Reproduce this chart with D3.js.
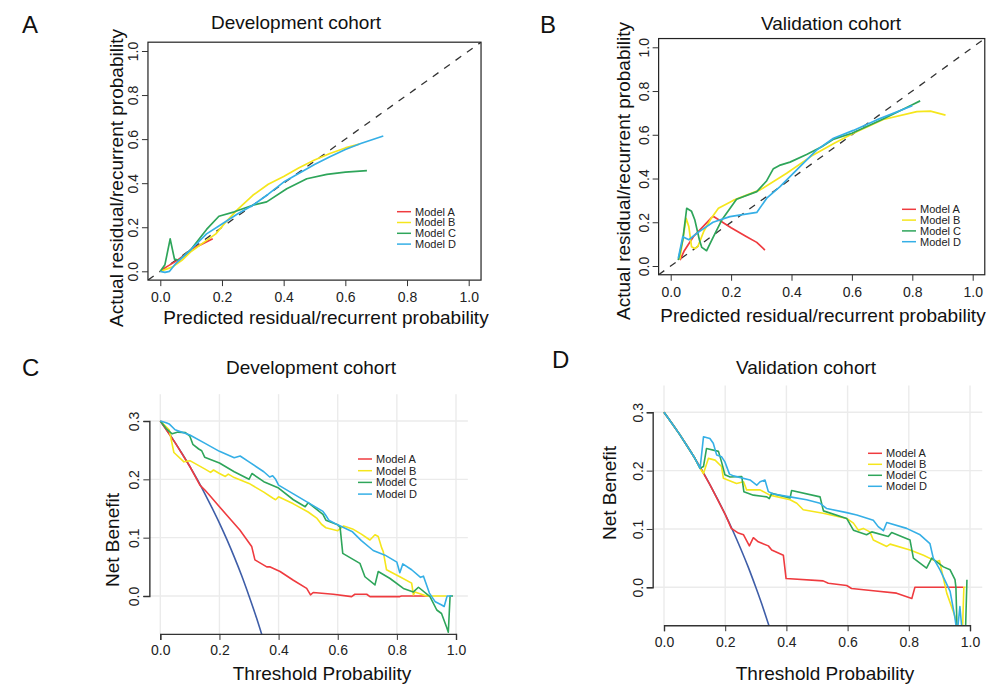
<!DOCTYPE html>
<html><head><meta charset="utf-8">
<script src="https://cdn.jsdelivr.net/npm/d3@7"></script>
<style>body{margin:0;background:#fff}svg{display:block;font-family:"Liberation Sans",Arial,Helvetica,sans-serif}</style>
</head><body><svg id="c" width="992" height="686"></svg>
<script>
// ---------------- data ----------------
const modelNames = ["Model A", "Model B", "Model C", "Model D"];
const calTicks = [0, 0.2, 0.4, 0.6, 0.8, 1.0];
const dcaXTicks = [0, 0.2, 0.4, 0.6, 0.8, 1.0];
const dcaYTicks = [0, 0.1, 0.2, 0.3];

// Calibration, development cohort: [predicted, actual]
const calDevA = [[0,0],[0.02,0.02],[0.05,0.045],[0.08,0.075],[0.1,0.1],[0.13,0.12],[0.17,0.148]];
const calDevB = [[0,0],[0.02,0.01],[0.04,0.02],[0.07,0.05],[0.1,0.09],[0.14,0.13],[0.18,0.17],[0.21,0.22],[0.25,0.28],[0.3,0.345],[0.35,0.395],[0.4,0.43],[0.45,0.47],[0.5,0.505],[0.55,0.535],[0.6,0.56],[0.645,0.577]];
const calDevC = [[0,0],[0.015,0.03],[0.032,0.147],[0.046,0.055],[0.06,0.05],[0.1,0.1],[0.15,0.19],[0.19,0.25],[0.24,0.27],[0.3,0.3],[0.345,0.315],[0.41,0.375],[0.475,0.42],[0.54,0.44],[0.6,0.45],[0.67,0.457]];
const calDevD = [[0,0],[0.015,-0.005],[0.03,0.0],[0.05,0.035],[0.1,0.1],[0.15,0.17],[0.2,0.215],[0.25,0.26],[0.3,0.3],[0.35,0.35],[0.4,0.405],[0.45,0.445],[0.5,0.485],[0.55,0.52],[0.6,0.553],[0.65,0.58],[0.723,0.614]];

// Calibration, validation cohort
const calValA = [[0.031,0.027],[0.045,0.07],[0.075,0.134],[0.1,0.17],[0.136,0.222],[0.142,0.226],[0.2,0.175],[0.25,0.135],[0.285,0.108],[0.312,0.073]];
const calValB = [[0.03,0.03],[0.04,0.12],[0.051,0.218],[0.06,0.18],[0.069,0.088],[0.08,0.08],[0.09,0.09],[0.11,0.16],[0.135,0.22],[0.158,0.264],[0.207,0.3],[0.296,0.348],[0.384,0.424],[0.472,0.508],[0.54,0.56],[0.605,0.607],[0.704,0.67],[0.815,0.706],[0.86,0.708],[0.91,0.69]];
const calValC = [[0.025,0.027],[0.04,0.12],[0.053,0.264],[0.069,0.25],[0.08,0.21],[0.095,0.12],[0.103,0.085],[0.119,0.07],[0.14,0.13],[0.169,0.21],[0.218,0.305],[0.285,0.34],[0.318,0.39],[0.34,0.445],[0.36,0.46],[0.395,0.475],[0.45,0.51],[0.5,0.545],[0.54,0.58],[0.6,0.607],[0.7,0.67],[0.8,0.737],[0.826,0.755]];
const calValD = [[0.025,0.035],[0.04,0.134],[0.06,0.12],[0.086,0.149],[0.14,0.2],[0.196,0.226],[0.285,0.245],[0.318,0.31],[0.362,0.363],[0.428,0.454],[0.483,0.53],[0.539,0.584],[0.605,0.62],[0.682,0.668],[0.8,0.733]];

// Decision curves: [threshold, net benefit]
const dcaAll = [[0,0.3],[0.025,0.282],[0.05,0.263],[0.075,0.243],[0.1,0.222],[0.125,0.2],[0.15,0.176],[0.175,0.151],[0.2,0.125],[0.225,0.097],[0.25,0.067],[0.275,0.035],[0.3,0.0],[0.325,-0.037],[0.345,-0.069]];

const dcaDevA = [[0,0.3],[0.05,0.263],[0.1,0.222],[0.134,0.19],[0.15,0.182],[0.168,0.172],[0.2,0.153],[0.24,0.13],[0.269,0.113],[0.309,0.085],[0.32,0.062],[0.36,0.05],[0.37,0.05],[0.405,0.042],[0.45,0.027],[0.495,0.013],[0.508,0.002],[0.517,0.006],[0.585,0.003],[0.647,-0.001],[0.658,0.003],[0.698,0.003],[0.709,-0.001],[0.81,-0.001],[0.816,0.0],[0.905,0.0]];
const dcaDevB = [[0,0.3],[0.03,0.285],[0.046,0.246],[0.08,0.23],[0.1,0.232],[0.15,0.218],[0.17,0.212],[0.18,0.216],[0.2,0.21],[0.22,0.205],[0.23,0.209],[0.25,0.203],[0.3,0.193],[0.35,0.178],[0.38,0.168],[0.39,0.165],[0.4,0.17],[0.45,0.158],[0.5,0.144],[0.53,0.133],[0.545,0.123],[0.56,0.117],[0.6,0.112],[0.62,0.12],[0.65,0.115],[0.68,0.106],[0.709,0.096],[0.726,0.105],[0.737,0.102],[0.749,0.082],[0.754,0.076],[0.765,0.045],[0.81,0.033],[0.85,0.022],[0.856,0.002],[0.861,0.007],[0.9,0.0],[0.968,0.0]];
const dcaDevC = [[0,0.3],[0.02,0.287],[0.04,0.278],[0.06,0.281],[0.085,0.28],[0.1,0.274],[0.11,0.26],[0.13,0.252],[0.14,0.249],[0.15,0.238],[0.2,0.228],[0.25,0.213],[0.3,0.2],[0.31,0.21],[0.35,0.196],[0.4,0.185],[0.45,0.165],[0.49,0.153],[0.5,0.16],[0.55,0.14],[0.56,0.13],[0.6,0.122],[0.608,0.118],[0.617,0.073],[0.675,0.056],[0.692,0.033],[0.726,0.019],[0.737,0.042],[0.777,0.03],[0.822,0.013],[0.856,0.007],[0.873,0.015],[0.912,-0.001],[0.935,-0.024],[0.951,-0.03],[0.968,-0.053],[0.974,-0.062],[0.98,0.0],[0.99,0.0]];
const dcaDevD = [[0,0.3],[0.02,0.297],[0.03,0.295],[0.05,0.285],[0.1,0.276],[0.15,0.262],[0.2,0.248],[0.25,0.237],[0.27,0.24],[0.3,0.23],[0.35,0.213],[0.37,0.204],[0.38,0.206],[0.39,0.2],[0.4,0.19],[0.45,0.175],[0.5,0.16],[0.55,0.145],[0.56,0.138],[0.57,0.13],[0.6,0.122],[0.65,0.11],[0.68,0.095],[0.72,0.078],[0.76,0.07],[0.8,0.058],[0.81,0.04],[0.82,0.055],[0.85,0.045],[0.88,0.032],[0.89,0.034],[0.91,0.005],[0.93,-0.01],[0.95,-0.015],[0.96,-0.018],[0.97,0.0],[0.985,0.0]];

const dcaValA = [[0,0.3],[0.05,0.263],[0.1,0.222],[0.15,0.176],[0.2,0.125],[0.22,0.101],[0.243,0.093],[0.26,0.09],[0.279,0.071],[0.292,0.085],[0.308,0.078],[0.341,0.071],[0.352,0.064],[0.39,0.055],[0.399,0.015],[0.52,0.011],[0.537,0.007],[0.597,0.003],[0.613,-0.002],[0.684,-0.006],[0.76,-0.01],[0.81,-0.019],[0.82,0.0],[0.978,0.0]];
const dcaValB = [[0,0.3],[0.05,0.263],[0.1,0.222],[0.118,0.204],[0.129,0.195],[0.145,0.221],[0.167,0.218],[0.188,0.207],[0.194,0.187],[0.237,0.178],[0.26,0.181],[0.27,0.167],[0.314,0.167],[0.346,0.158],[0.412,0.15],[0.434,0.144],[0.455,0.133],[0.52,0.127],[0.597,0.118],[0.619,0.11],[0.635,0.098],[0.651,0.101],[0.673,0.095],[0.684,0.081],[0.728,0.07],[0.739,0.074],[0.804,0.064],[0.848,0.055],[0.891,0.044],[0.9,0.046],[0.924,-0.01],[0.951,-0.05],[0.962,-0.08],[0.975,-0.08],[0.98,0.0],[0.985,0.0]];
const dcaValC = [[0,0.3],[0.05,0.263],[0.1,0.222],[0.118,0.204],[0.129,0.207],[0.139,0.238],[0.178,0.233],[0.188,0.215],[0.199,0.193],[0.216,0.189],[0.254,0.19],[0.261,0.164],[0.292,0.158],[0.336,0.155],[0.344,0.152],[0.352,0.161],[0.412,0.153],[0.417,0.166],[0.51,0.155],[0.521,0.131],[0.597,0.118],[0.619,0.098],[0.662,0.09],[0.679,0.095],[0.733,0.087],[0.744,0.094],[0.804,0.081],[0.815,0.05],[0.858,0.033],[0.875,0.05],[0.913,0.035],[0.935,0.03],[0.951,0.013],[0.954,0.0],[0.958,-0.08],[0.985,-0.08],[0.99,0.013]];
const dcaValD = [[0,0.3],[0.05,0.263],[0.1,0.222],[0.118,0.204],[0.129,0.258],[0.15,0.255],[0.161,0.247],[0.172,0.227],[0.188,0.224],[0.199,0.215],[0.214,0.194],[0.227,0.191],[0.281,0.184],[0.303,0.175],[0.314,0.181],[0.33,0.184],[0.341,0.164],[0.357,0.16],[0.412,0.155],[0.466,0.15],[0.51,0.144],[0.532,0.135],[0.597,0.128],[0.63,0.124],[0.684,0.115],[0.7,0.104],[0.717,0.097],[0.728,0.111],[0.793,0.101],[0.837,0.09],[0.869,0.075],[0.88,0.05],[0.902,0.03],[0.935,-0.007],[0.951,-0.053],[0.958,-0.08],[0.967,-0.033],[0.975,-0.08]];

// ---------------- styles ----------------
const modelColors = ["#ef3b3f", "#f5e61c", "#2ea55a", "#35afe6"];
const allColor = "#3f5ea8";
const gridColor = "#ebebeb";
const axisColor = "#333";
const FONT_TICK = 14, FONT_LAB = 19, FONT_TITLE = 19;

const svg = d3.select("#c");
let clipId = 0;

function rotLabel(g, x, y, text, size) {
  g.append("text").attr("transform", `translate(${x},${y}) rotate(-90)`)
    .attr("text-anchor", "middle").attr("dy", "0.35em")
    .attr("font-size", size).attr("fill", "#111").text(text);
}
function hLabel(g, x, y, text, size) {
  g.append("text").attr("x", x).attr("y", y).attr("text-anchor", "middle").attr("dy", "0.35em")
    .attr("font-size", size).attr("fill", "#111").text(text);
}
function legend(g, lx, ly, step, len, size) {
  modelNames.forEach((n, i) => {
    g.append("line").attr("x1", lx).attr("x2", lx + len).attr("y1", ly + i * step).attr("y2", ly + i * step)
      .attr("stroke", modelColors[i]).attr("stroke-width", 1.5);
    g.append("text").attr("x", lx + len + 4).attr("y", ly + i * step).attr("dy", "0.35em")
      .attr("font-size", size).attr("fill", "#222").text(n);
  });
}
function styleAxis(ax, rotate, off) {
  ax.selectAll("line").attr("stroke", axisColor);
  ax.selectAll("path").attr("stroke", axisColor);
  ax.selectAll("text").attr("font-size", FONT_TICK).attr("fill", "#222")
    .attr("font-family", null);
  if (rotate) {
    ax.selectAll("text").attr("x", null).attr("dy", "0.35em")
      .attr("transform", `translate(${-off},0) rotate(-90)`).attr("text-anchor", "middle");
  } else {
    ax.selectAll("text").attr("y", off).attr("dy", "0.35em");
  }
}

function calibPanel(cfg, series) {
  const g = svg.append("g");
  const x = d3.scaleLinear().domain([0, 1]).range([cfg.x0, cfg.x1]);
  const y = d3.scaleLinear().domain([0, 1]).range([cfg.y0, cfg.y1]);
  const L = x(-0.04), R = x(1.04), T = y(1.04), B = y(-0.04);
  const id = "clip" + (clipId++);
  g.append("clipPath").attr("id", id).append("rect").attr("x", L).attr("y", T).attr("width", R - L).attr("height", B - T);
  const pg = g.append("g").attr("clip-path", `url(#${id})`);
  pg.append("line").attr("x1", x(-0.04)).attr("y1", y(-0.04)).attr("x2", x(1.04)).attr("y2", y(1.04))
    .attr("stroke", "#333").attr("stroke-width", 1.3).attr("stroke-dasharray", "7,7");
  const line = d3.line().x(d => x(d[0])).y(d => y(d[1]));
  series.forEach((s, i) => {
    pg.append("path").attr("d", line(s)).attr("fill", "none").attr("stroke", modelColors[i]).attr("stroke-width", 1.7)
      .attr("stroke-linejoin", "round");
  });
  g.append("rect").attr("x", L).attr("y", T).attr("width", R - L).attr("height", B - T)
    .attr("fill", "none").attr("stroke", "#222").attr("stroke-width", 1.2);
  const fmt = d3.format(".1f");
  const ax = g.append("g").attr("transform", `translate(0,${B})`)
    .call(d3.axisBottom(x).tickValues(calTicks).tickFormat(fmt).tickSize(6));
  ax.select(".domain").remove();
  styleAxis(ax, false, 17);
  const ay = g.append("g").attr("transform", `translate(${L},0)`)
    .call(d3.axisLeft(y).tickValues(calTicks).tickFormat(fmt).tickSize(6));
  ay.select(".domain").remove();
  styleAxis(ay, true, 14.5);
  hLabel(g, cfg.titleX, cfg.titleY, cfg.title, FONT_TITLE);
  hLabel(g, cfg.xlabX, cfg.xlabY, "Predicted residual/recurrent probability", FONT_LAB);
  rotLabel(g, cfg.ylabX, cfg.ylabY, "Actual residual/recurrent probability", FONT_LAB);
  legend(g, cfg.legX, cfg.legY, cfg.legStep, 14, 11);
  g.append("text").attr("x", cfg.letX).attr("y", cfg.letY).attr("font-size", 24).attr("fill", "#111").text(cfg.letter);
}

function dcaPanel(cfg, series) {
  const g = svg.append("g");
  const x = d3.scaleLinear().domain([0, 1]).range([cfg.x0, cfg.x1]);
  const y = d3.scaleLinear().domain([0, 0.3]).range([cfg.y0, cfg.y3]);
  const L = x(-0.037), R = x(1.04), T = y(0.346), B = y(-0.065);
  // grid
  g.append("g").selectAll("line").data(dcaXTicks).join("line")
    .attr("x1", d => x(d)).attr("x2", d => x(d)).attr("y1", T).attr("y2", B)
    .attr("stroke", gridColor).attr("stroke-width", 1.4);
  g.append("g").selectAll("line").data(dcaYTicks).join("line")
    .attr("x1", L).attr("x2", R).attr("y1", d => y(d)).attr("y2", d => y(d))
    .attr("stroke", gridColor).attr("stroke-width", 1.4);
  const id = "clip" + (clipId++);
  g.append("clipPath").attr("id", id).append("rect").attr("x", L).attr("y", T).attr("width", R - L).attr("height", B - T);
  const pg = g.append("g").attr("clip-path", `url(#${id})`);
  const line = d3.line().x(d => x(d[0])).y(d => y(d[1]));
  pg.append("path").attr("d", line.curve(d3.curveMonotoneX)(dcaAll)).attr("fill", "none")
    .attr("stroke", allColor).attr("stroke-width", 1.6);
  const line2 = d3.line().x(d => x(d[0])).y(d => y(d[1]));
  series.forEach((s, i) => {
    pg.append("path").attr("d", line2(s)).attr("fill", "none").attr("stroke", modelColors[i]).attr("stroke-width", 1.6)
      .attr("stroke-linejoin", "round");
  });
  const ax = g.append("g").attr("transform", `translate(0,${B})`)
    .call(d3.axisBottom(x).tickValues(dcaXTicks).tickFormat(d3.format(".1f")).tickSize(6).tickSizeOuter(6));
  styleAxis(ax, false, 16.5);
  ax.select(".domain").attr("stroke-width", 1.4);
  const ay = g.append("g").attr("transform", `translate(${L},0)`)
    .call(d3.axisLeft(y).tickValues(dcaYTicks).tickFormat(d3.format(".1f")).tickSize(6).tickSizeOuter(6));
  styleAxis(ay, true, 15);
  ay.select(".domain").attr("stroke-width", 1.4);
  hLabel(g, cfg.titleX, cfg.titleY, cfg.title, FONT_TITLE);
  hLabel(g, cfg.xlabX, cfg.xlabY, "Threshold Probability", FONT_LAB);
  rotLabel(g, cfg.ylabX, cfg.ylabY, "Net Benefit", FONT_LAB);
  legend(g, cfg.legX, cfg.legY, cfg.legStep, 14, cfg.legFont);
  g.append("text").attr("x", cfg.letX).attr("y", cfg.letY).attr("font-size", 24).attr("fill", "#111").text(cfg.letter);
}

calibPanel({x0: 160.3, x1: 468.7, y0: 271.3, y1: 51, title: "Development cohort", titleX: 296, titleY: 22,
  xlabX: 326, xlabY: 317, ylabX: 116, ylabY: 178, legX: 397, legY: 211.7, legStep: 10.8, letter: "A", letX: 22, letY: 33},
  [calDevA, calDevB, calDevC, calDevD]);
calibPanel({x0: 670.7, x1: 972.7, y0: 266, y1: 47.3, title: "Validation cohort", titleX: 831, titleY: 23,
  xlabX: 823, xlabY: 315, ylabX: 623, ylabY: 171, legX: 902, legY: 209.3, legStep: 10.8, letter: "B", letX: 540, letY: 33},
  [calValA, calValB, calValC, calValD]);
dcaPanel({x0: 160.3, x1: 456, y0: 596, y3: 421, title: "Development cohort", titleX: 311, titleY: 367,
  xlabX: 322, xlabY: 673, ylabX: 112, ylabY: 540, legX: 358, legY: 459, legStep: 11.7, legFont: 11, letter: "C", letX: 22, letY: 376},
  [dcaDevA, dcaDevB, dcaDevC, dcaDevD]);
dcaPanel({x0: 664, x1: 970, y0: 587.3, y3: 412.3, title: "Validation cohort", titleX: 806, titleY: 367,
  xlabX: 825, xlabY: 673, ylabX: 609, ylabY: 493, legX: 868, legY: 453.3, legStep: 11, legFont: 11, letter: "D", letX: 552, letY: 368},
  [dcaValA, dcaValB, dcaValC, dcaValD]);
</script></body></html>
